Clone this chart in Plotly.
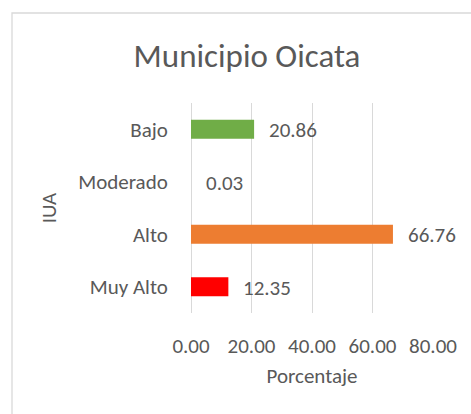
import plotly.graph_objects as go

categories = ["Bajo", "Moderado", "Alto", "Muy Alto"]
values = [20.86, 0.03, 66.76, 12.35]
colors = ["#70AD47", "rgba(255,192,0,0)", "#ED7D31", "#FF0000"]
x_ticks = [0, 20, 40, 60, 80]
x_tick_labels = ["0.00", "20.00", "40.00", "60.00", "80.00"]

FONT = "Carlito, Calibri, Lato, sans-serif"
GREY = "#595959"

fig = go.Figure()
fig.add_trace(go.Bar(
    y=categories, x=values, orientation="h",
    marker=dict(color=colors, line=dict(width=0)),
    width=0.36, showlegend=False, hoverinfo="x+y",
))

for c, v in zip(categories, values):
    fig.add_annotation(x=v, y=c, text=f"{v:.2f}", showarrow=False,
                       xanchor="left", xshift=13, yshift=-1,
                       font=dict(family=FONT, size=21, color=GREY))

W, H = 471, 414
l, r, t, b = 191, 38, 103, 101
pw, ph = W - l - r, H - t - b
bx0 = (12 - l) / pw
by1 = (H - b - 13) / ph

fig.add_shape(type="rect", xref="paper", yref="paper",
              x0=bx0, x1=3, y0=-3, y1=by1,
              line=dict(color="#D9D9D9", width=1.3), fillcolor="rgba(0,0,0,0)",
              layer="below")

fig.update_layout(
    width=W, height=H,
    margin=dict(l=l, r=r, t=t, b=b),
    paper_bgcolor="white", plot_bgcolor="white",
    font=dict(family=FONT, color=GREY, size=21),
    title=dict(text="Municipio Oicata", x=247 / W, xanchor="center",
               y=1 - 55 / H, yanchor="middle",
               font=dict(family=FONT, size=33, color=GREY)),
    xaxis=dict(range=[0, 80], tickvals=x_ticks, ticktext=x_tick_labels,
               showgrid=True, gridcolor="#D9D9D9", gridwidth=1.3,
               zeroline=True, zerolinecolor="#D9D9D9", zerolinewidth=1.3,
               showline=False,
               ticks="outside", ticklen=14, tickcolor="rgba(0,0,0,0)",
               tickfont=dict(family=FONT, size=21, color=GREY),
               title=dict(text="Porcentaje", standoff=10,
                          font=dict(family=FONT, size=21, color=GREY)),
               fixedrange=True),
    yaxis=dict(categoryorder="array", categoryarray=categories,
               autorange="reversed", showgrid=False, zeroline=False,
               showline=False, ticks="outside", ticklen=18,
               tickcolor="rgba(0,0,0,0)",
               tickfont=dict(family=FONT, size=21, color=GREY),
               title=dict(text="IUA", standoff=15,
                          font=dict(family=FONT, size=21, color=GREY)),
               fixedrange=True),
    bargap=0.64,
)

fig.write_html(
    "out.html",
    config={"displayModeBar": False},
    post_script="document.body.style.margin='0px';document.body.style.overflow='hidden';",
)
